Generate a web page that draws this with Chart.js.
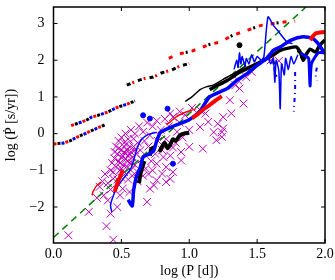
<!DOCTYPE html>
<html>
<head>
<meta charset="utf-8">
<script src="https://cdn.jsdelivr.net/npm/chart.js@4.4.1/dist/chart.umd.min.js"></script>
<style>
  html, body { margin: 0; padding: 0; background: #fff; }
</style>
</head>
<body>
<canvas id="periodChart" width="335" height="280"></canvas>
<script>
// axis ticks
const xTicks = [0, 0.5, 1, 1.5, 2];
const yTicks = [-2, -1, 0, 1, 2, 3];

// observed systems (magenta crosses), [logP, logPdot]
const observed = [
  [0.11,-2.77],[0.44,-2.89],[0.39,-2.52],[0.26,-2.13],[0.42,-2.18],[0.40,-1.82],[0.47,-2.0],
  [0.69,-1.86],[0.49,-1.68],[0.51,-1.5],[0.56,-1.59],[0.71,-1.5],[0.76,-1.27],[0.80,-1.09],
  [0.83,-0.91],[0.76,-0.82],[0.86,-1.23],[0.74,-1.41],[0.83,-1.32],[0.88,-1.05],[0.94,-0.73],
  [0.94,-0.5],[1.0,-0.36],[1.1,-0.41],[1.2,-0.18],[1.24,0.04],[1.24,-0.09],[1.18,0.04],
  [1.25,0.14],[1.21,0.27],[1.14,0.32],[1.25,0.45],[1.31,0.55],[1.12,0.55],[1.08,0.64],
  [1.30,0.91],[1.40,0.82],[1.37,1.23],[1.34,1.32],[1.36,1.45],[1.42,1.54],[1.46,1.68],
  [1.08,0.18],[0.88,-0.38],[0.81,-0.64],[1.6,2.0],[1.66,1.98],
  [0.32,-1.75],[0.37,-1.68],[0.42,-1.52],[0.44,-1.23],[0.42,-1.0],[0.45,-0.68],[0.50,-0.45],
  [0.56,-0.36],[0.54,-0.27],[0.59,-0.14],[0.34,-1.45],[0.36,-1.3],[0.38,-1.1],
  [0.46,-0.9],[0.47,-0.55],[0.48,-0.75],[0.49,-1.0],[0.50,-0.65],[0.51,-0.85],[0.52,-0.5],
  [0.52,-1.05],[0.53,-0.7],[0.54,-0.9],[0.54,-0.45],[0.55,-0.6],[0.56,-0.8],[0.57,-0.5],
  [0.57,-1.0],[0.58,-0.65],[0.59,-0.35],[0.60,-0.85],[0.61,-0.55],[0.62,-1.05],[0.46,-0.35],
  [0.48,-0.2],[0.50,-0.1],[0.52,-0.25],[0.53,0.0],[0.55,-0.15],[0.57,0.1],[0.60,0.0],
  [0.62,-0.25],[0.63,0.2],[0.64,-0.45],[0.65,-0.7],[0.66,0.05],[0.67,-0.2],[0.68,-0.95],
  [0.69,0.3],[0.70,-0.35],[0.71,-0.05],[0.72,-0.75],[0.73,0.2],[0.75,-0.55],[0.76,0.35],
  [0.77,-0.2],[0.79,0.1],[0.80,-0.45],[0.82,0.4],[0.83,-0.15],[0.85,0.2],[0.86,-0.6],
  [0.88,0.45],[0.90,-0.25],[0.91,0.05],[0.93,0.3],[0.95,-0.1],[0.97,0.5],[1.0,0.1],
  [0.44,-1.05],[0.47,-1.25],[0.5,-1.2],[0.55,-1.25],[0.58,-1.15],[0.62,-1.3],[0.66,-1.15],
  [0.70,-1.1],[0.73,-1.0],[0.40,-1.35],[0.43,-0.8],[0.86,0.55],[0.93,0.6],[1.02,0.7],
  [0.48,-0.4],[0.51,-0.6],[0.53,-0.55],[0.55,-0.75],[0.56,-0.55],[0.58,-0.8],[0.49,-0.8],
  [0.45,-0.5],[0.60,-0.45],[0.52,-0.35],[0.50,-0.95]
];

// fit (green dashed)
const fitLine = [[0,-2.83],[1.86,3.45]];

// dash-dot tracks
const track1 = [[0.0,-0.28],[0.07,-0.26],[0.12,-0.2],[0.17,-0.1],[0.22,-0.02],[0.28,0.08],[0.34,0.18],[0.38,0.24]];
const track2 = [[0.13,0.22],[0.17,0.27],[0.21,0.32],[0.24,0.36],[0.28,0.45],[0.33,0.5],[0.40,0.59],[0.45,0.68],[0.48,0.73],[0.54,0.8],[0.6,0.89]];
const track3 = [[0.54,1.32],[0.61,1.43],[0.67,1.5],[0.735,1.54],[0.8,1.66],[0.87,1.73],[0.93,1.84],[1.0,1.91]];
const track4 = [[0.85,2.05],[0.91,2.16],[1.02,2.25],[1.15,2.43],[1.23,2.5],[1.32,2.68],[1.43,2.82],[1.53,2.95],[1.62,3.0],[1.7,3.04],[1.78,3.07]];
const blackDashRight = [[1.6,2.15],[1.62,1.95],[1.63,1.75],[1.64,1.55]];
const blackDashRight2 = [[1.8,2.27],[1.82,2.12],[1.84,2.0]];
const blueDashRight = [[1.78,1.68],[1.78,1.2],[1.77,0.6]];
const blueDashRight2 = [[1.94,1.8],[1.93,1.6],[1.94,1.45]];
const blueDots = [[0.84,0.68],[0.71,0.41],[0.66,0.5],[0.88,-0.82]];
const blackDots = [[1.37,2.41]];

// solid model curves
const redThinLow = [[0.285,-1.68],[0.29,-1.59],[0.32,-1.41],[0.35,-1.32]];
const redThickLow = [[0.45,-1.59],[0.47,-1.36],[0.49,-1.18],[0.51,-1.0]];
const redThinMid = [[0.83,0.25],[0.86,0.32],[0.9,0.45],[0.95,0.55],[1.02,0.64],[1.05,0.68]];
const redThickMid = [[1.02,0.42],[1.06,0.52],[1.1,0.65],[1.15,0.78],[1.2,0.92],[1.24,1.02]];
const redThickTop = [[1.89,2.55],[1.93,2.73],[2.0,2.77]];
const blueThin = [[0.43,-2.14],[0.42,-1.95],[0.44,-1.7],[0.47,-1.45],[0.52,-1.2],[0.57,-0.95],[0.6,-0.6],[0.62,-0.35],[0.65,-0.15],[0.7,-0.02],[0.76,0.04]];
const blueThick = [[0.55,-1.8],[0.58,-1.97],[0.59,-1.55],[0.61,-1.18],[0.64,-0.91],[0.66,-0.64],[0.71,-0.55],[0.74,-0.45],[0.76,-0.2],[0.79,0.04],[0.88,0.2],[1.0,0.38],[1.08,0.62],[1.15,1.0],[1.28,1.23],[1.35,1.45],[1.42,1.62],[1.5,1.86],[1.57,2.05],[1.62,2.27],[1.67,2.36],[1.75,2.55],[1.84,2.64],[1.91,2.59],[1.95,2.45],[1.99,2.23]];
const blueThickRight = [[1.82,2.2],[1.86,2.1],[1.88,2.05],[1.89,1.3],[1.9,1.9],[1.95,2.2],[2.0,2.2]];
const blueSpiky = [[1.33,1.75],[1.35,2.0],[1.36,1.8],[1.37,2.2],[1.38,1.9],[1.39,2.1],[1.41,1.85],[1.42,2.05],[1.44,1.9],[1.46,2.15],[1.48,1.95],[1.5,2.1],[1.53,2.0],[1.55,2.1],[1.58,3.18],[1.62,2.95],[1.66,2.77],[1.72,2.5],[1.76,2.45]];
const blueSpikyLow = [[1.58,2.1],[1.6,1.9],[1.62,2.05],[1.63,1.4],[1.64,2.0],[1.66,1.7],[1.67,0.68],[1.68,1.9],[1.7,1.6],[1.71,2.05],[1.73,1.75],[1.75,2.1],[1.77,1.9],[1.8,2.15]];
const blackThin = [[0.97,0.88],[1.02,1.0],[1.08,1.2],[1.13,1.28],[1.18,1.33],[1.25,1.48],[1.32,1.62],[1.42,1.85]];
const blackThickTop = [[1.15,1.2],[1.2,1.3],[1.28,1.45],[1.37,1.67],[1.45,1.82],[1.55,2.0],[1.62,2.15],[1.67,2.27],[1.73,2.33],[1.79,2.36],[1.82,2.2],[1.84,2.0],[1.86,2.15],[1.89,2.3],[1.93,2.22],[1.96,2.4],[2.0,2.55]];
const blackThickLow = [[0.63,-1.35],[0.64,-1.1],[0.66,-0.85],[0.67,-0.75],[null,null],[0.71,-0.6],[0.72,-0.42],[0.74,-0.38],[null,null],[0.78,-0.5],[0.8,-0.35],[0.82,-0.25],[0.84,-0.4],[0.86,-0.3],[0.88,-0.15],[0.9,-0.2],[0.93,-0.05],[0.96,0.0],[1.0,0.02]];

function pts(arr) {
    return arr.map(function(p) { return { x: p[0], y: p[1] }; });
}

function solid(data, color, width, order) {
    return { type: 'line', data: pts(data), borderColor: color, borderWidth: width,
             pointRadius: 0, fill: false, tension: 0.2, spanGaps: false, order: order || 0 };
}

function dashed(data, color, width, dash, offset) {
    return { type: 'line', data: pts(data), borderColor: color, borderWidth: width,
             borderDash: dash, borderDashOffset: offset || 0, pointRadius: 0, fill: false, order: 1 };
}

function dots(data, color, r) {
    return { type: 'scatter', data: pts(data), backgroundColor: color, borderColor: color,
             pointRadius: r, order: 1 };
}

// frame and inward ticks on all four sides
const framePlugin = {
    id: 'frame',
    afterDatasetsDraw(chart) {
        const ctx = chart.ctx, a = chart.chartArea, xs = chart.scales.x, ys = chart.scales.y;
        ctx.save();
        ctx.strokeStyle = '#000';
        ctx.lineWidth = 1;
        ctx.beginPath();
        xTicks.forEach(function(v) {
            const px = xs.getPixelForValue(v);
            ctx.moveTo(px, a.bottom); ctx.lineTo(px, a.bottom - 4);
            ctx.moveTo(px, a.top); ctx.lineTo(px, a.top + 4);
        });
        yTicks.forEach(function(v) {
            const py = ys.getPixelForValue(v);
            ctx.moveTo(a.left, py); ctx.lineTo(a.left + 4, py);
            ctx.moveTo(a.right, py); ctx.lineTo(a.right - 4, py);
        });
        ctx.stroke();
        ctx.lineWidth = 1.5;
        ctx.strokeRect(a.left, a.top, a.right - a.left, a.bottom - a.top);
        ctx.restore();
    }
};

Chart.defaults.font.family = "'Liberation Serif', 'DejaVu Serif', serif";
Chart.defaults.font.size = 14;
Chart.defaults.color = '#000';

const dd = [3, 9];

new Chart(document.getElementById('periodChart'), {
    type: 'scatter',
    data: {
        datasets: [
            { type: 'scatter', data: pts(observed), pointStyle: 'crossRot', pointRadius: 5.5,
              borderColor: '#bf00bf', borderWidth: 1, order: 10 },
            dashed(fitLine, '#008000', 1.5, [7, 5], 0),
            dashed(track1, '#ff0000', 3, dd, 0),
            dashed(track1, '#0000ff', 3, dd, 4),
            dashed(track1, '#000000', 3, dd, 8),
            dashed(track2, '#ff0000', 3, dd, 0),
            dashed(track2, '#0000ff', 3, dd, 4),
            dashed(track2, '#000000', 3, dd, 8),
            dashed(track3, '#000000', 3, [4, 8], 0),
            dashed(track3, '#ff0000', 3, [2, 10], 6),
            dashed(track4, '#ff0000', 3, [4, 8], 0),
            dashed(track4, '#000000', 3, [2, 22], 6),
            dashed(blackDashRight, '#000000', 2.5, [3, 4], 0),
            dashed(blackDashRight2, '#000000', 2.5, [3, 4], 0),
            dashed(blueDashRight, '#0000ff', 2, [4, 4, 1, 4], 0),
            dashed(blueDashRight2, '#0000ff', 2, [4, 4, 1, 4], 0),
            dots(blueDots, '#0000ff', 2.5),
            dots(blackDots, '#000000', 2.5),
            solid(redThinLow, '#ff0000', 1.5),
            solid(redThickLow, '#ff0000', 4),
            solid(redThinMid, '#ff0000', 1.5),
            solid(redThickMid, '#ff0000', 4),
            solid(redThickTop, '#ff0000', 4),
            solid(blueThin, '#0000ff', 1.5),
            solid(blueThick, '#0000ff', 3.5),
            solid(blueThickRight, '#0000ff', 3),
            solid(blueSpiky, '#0000ff', 1.5),
            solid(blueSpikyLow, '#0000ff', 1.5),
            solid(blackThin, '#000000', 1.5),
            solid(blackThickTop, '#000000', 3.5),
            solid(blackThickLow, '#000000', 4)
        ]
    },
    options: {
        responsive: false,
        animation: false,
        layout: { padding: { left: 0, right: 10, top: 7, bottom: 0 } },
        plugins: { legend: { display: false }, tooltip: { enabled: false } },
        scales: {
            x: {
                type: 'linear', min: 0, max: 2,
                afterBuildTicks: function(s) { s.ticks = xTicks.map(function(v) { return { value: v }; }); },
                afterFit: function(s) { s.height = 37; s.paddingLeft = 0; s.paddingRight = 0; },
                grid: { display: false, drawTicks: false }, border: { display: false },
                ticks: { padding: 3, maxRotation: 0, callback: function(v) { return v.toFixed(1); } },
                title: { display: true, text: 'log (P [d])', padding: { top: 0, bottom: 0 } }
            },
            y: {
                type: 'linear', min: -2.98, max: 3.45,
                afterBuildTicks: function(s) { s.ticks = yTicks.map(function(v) { return { value: v }; }); },
                afterFit: function(s) { s.width = 53.5; s.paddingTop = 0; s.paddingBottom = 0; },
                grid: { display: false, drawTicks: false }, border: { display: false },
                ticks: { padding: 9, callback: function(v) { return v < 0 ? '\u2212' + Math.abs(v) : String(v); } },
                title: { display: true, text: 'log (\u1E56 [s/yr])', padding: { top: 3, bottom: 0 } }
            }
        }
    },
    plugins: [framePlugin]
});
</script>
</body>
</html>
